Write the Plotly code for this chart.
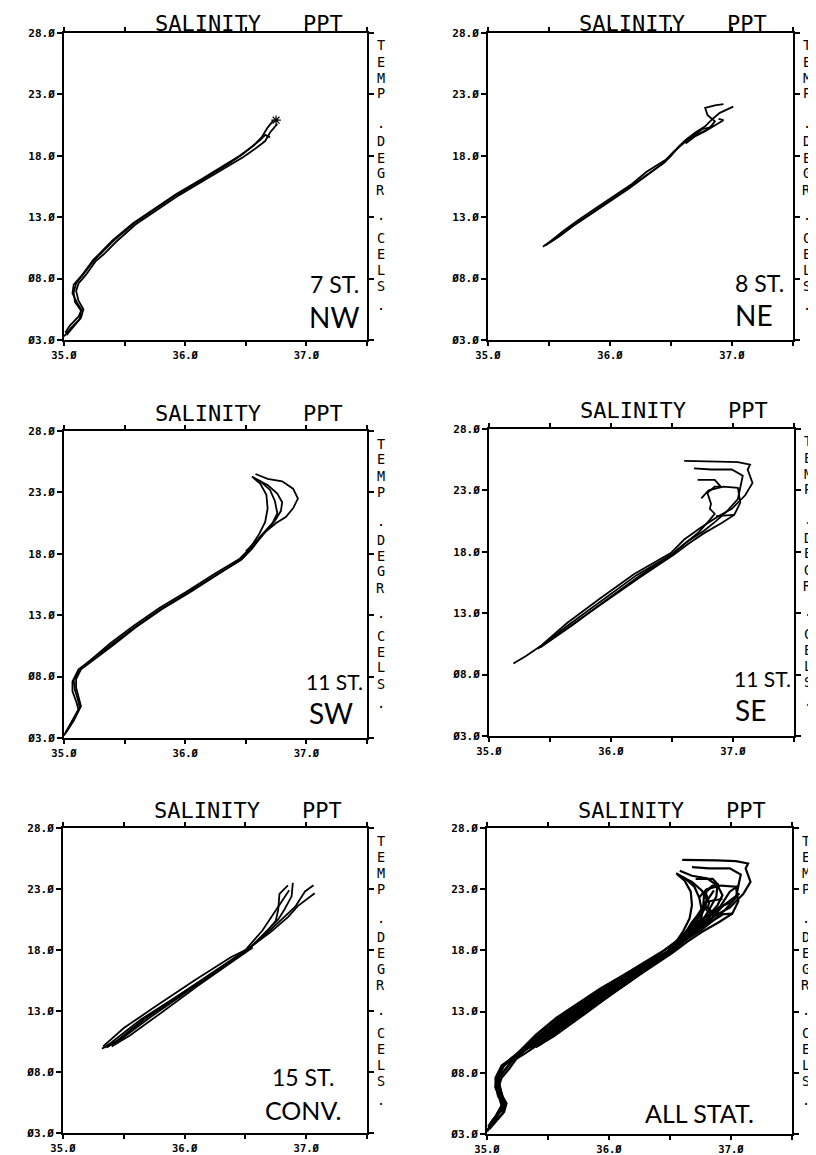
import plotly.graph_objects as go

# ---------------- data (salinity PPT, temperature deg C) ----------------
# NW, 7 stations
nw1_s = [35.01, 35.05, 35.12, 35.145, 35.11, 35.07, 35.08, 35.15, 35.24, 35.30, 35.40, 35.57, 35.74, 35.93, 36.12, 36.34, 36.45, 36.56, 36.63, 36.68, 36.73]
nw1_t = [3.6, 4.2, 4.9, 5.45, 6.0, 6.8, 7.5, 8.3, 9.5, 10.1, 11.1, 12.5, 13.6, 14.9, 16.0, 17.3, 18.0, 18.8, 19.5, 20.3, 20.9]
nw2_s = [35.02, 35.08, 35.14, 35.16, 35.12, 35.10, 35.12, 35.18, 35.26, 35.33, 35.43, 35.59, 35.76, 35.95, 36.14, 36.36, 36.48, 36.58, 36.66, 36.70, 36.76]
nw2_t = [3.4, 4.1, 4.8, 5.5, 6.2, 7.0, 7.6, 8.3, 9.4, 10.0, 11.0, 12.4, 13.5, 14.8, 15.9, 17.2, 17.9, 18.6, 19.2, 19.9, 20.6]
nw3_s = [35.00, 35.06, 35.13, 35.14, 35.09, 35.08, 35.10, 35.16, 35.25, 35.31, 35.41, 35.58, 35.75, 35.94, 36.13, 36.35, 36.47, 36.57, 36.62, 36.66, 36.70]
nw3_t = [3.3, 4.0, 4.7, 5.4, 6.1, 6.9, 7.6, 8.4, 9.5, 10.1, 11.1, 12.5, 13.6, 14.9, 16.0, 17.3, 18.1, 18.9, 19.3, 19.7, 19.5]
nw_star_s = [36.75]
nw_star_t = [20.9]

# NE, 8 stations
ne1_s = [35.45, 35.52, 35.62, 35.73, 35.88, 36.03, 36.18, 36.30, 36.46, 36.55, 36.62, 36.70, 36.78, 36.84, 36.90, 37.01]
ne1_t = [10.6, 11.1, 11.9, 12.7, 13.7, 14.7, 15.7, 16.7, 17.7, 18.6, 19.3, 19.9, 20.4, 21.0, 21.5, 22.0]
ne2_s = [35.50, 35.58, 35.70, 35.85, 36.00, 36.15, 36.30, 36.45, 36.52, 36.60, 36.68, 36.76, 36.82, 36.86, 36.80, 36.78, 36.86, 36.93]
ne2_t = [10.9, 11.4, 12.3, 13.3, 14.3, 15.3, 16.4, 17.5, 18.3, 19.0, 19.6, 20.2, 20.3, 20.8, 21.3, 21.9, 22.1, 22.2]
ne3_s = [35.47, 35.56, 35.68, 35.83, 35.98, 36.14, 36.28, 36.44, 36.50, 36.57, 36.64, 36.72, 36.79, 36.84]
ne3_t = [10.7, 11.3, 12.2, 13.2, 14.2, 15.3, 16.3, 17.4, 18.0, 18.8, 19.4, 19.8, 20.1, 20.5]
ne4_s = [36.62, 36.70, 36.78, 36.88, 36.93, 36.89]
ne4_t = [19.0, 19.6, 20.0, 20.6, 20.9, 21.0]

# SW, 11 stations
sw1_s = [35.01, 35.06, 35.13, 35.11, 35.09, 35.08, 35.13, 35.19, 35.30, 35.38, 35.57, 35.79, 36.01, 36.23, 36.45, 36.53, 36.61, 36.66, 36.68, 36.67, 36.62, 36.56]
sw1_t = [3.4, 4.3, 5.5, 6.3, 6.9, 7.7, 8.5, 9.1, 10.0, 10.7, 12.1, 13.6, 14.9, 16.3, 17.6, 18.4, 19.6, 20.6, 21.7, 22.8, 23.7, 24.2]
sw2_s = [35.00, 35.05, 35.12, 35.10, 35.07, 35.07, 35.12, 35.20, 35.31, 35.40, 35.58, 35.80, 36.02, 36.24, 36.46, 36.55, 36.64, 36.75, 36.83, 36.89, 36.93, 36.89, 36.80, 36.68, 36.58]
sw2_t = [3.2, 4.0, 5.3, 6.0, 6.8, 7.6, 8.6, 9.2, 10.0, 10.7, 12.0, 13.5, 14.8, 16.2, 17.5, 18.4, 19.6, 20.5, 21.0, 21.7, 22.5, 23.3, 23.9, 24.1, 24.5]
sw3_s = [35.02, 35.08, 35.14, 35.12, 35.10, 35.10, 35.14, 35.21, 35.32, 35.41, 35.59, 35.81, 36.03, 36.25, 36.47, 36.57, 36.66, 36.74, 36.79, 36.80, 36.76, 36.68, 36.60]
sw3_t = [3.5, 4.4, 5.6, 6.4, 7.1, 7.8, 8.6, 9.1, 9.9, 10.6, 12.0, 13.5, 14.8, 16.2, 17.6, 18.7, 19.8, 20.7, 21.5, 22.2, 22.9, 23.6, 24.0]
sw4_s = [36.50, 36.60, 36.72, 36.76, 36.74, 36.70, 36.62, 36.55]
sw4_t = [18.2, 19.2, 20.5, 21.3, 22.3, 23.2, 23.9, 24.3]

# SE, 11 stations
se1_s = [35.20, 35.30, 35.42, 35.64, 35.91, 36.19, 36.49, 36.60, 36.74, 36.88, 36.99, 37.10, 37.16, 37.14, 37.12, 37.14, 37.04, 36.88, 36.72, 36.60]
se1_t = [8.9, 9.5, 10.3, 12.2, 14.2, 16.2, 17.9, 19.0, 20.0, 20.9, 21.5, 22.6, 23.6, 24.2, 24.7, 25.1, 25.3, 25.35, 25.4, 25.4]
se2_s = [35.40, 35.50, 35.66, 35.93, 36.21, 36.50, 36.62, 36.76, 36.86, 36.95, 37.04, 37.08, 36.99, 36.82, 36.68]
se2_t = [10.1, 10.9, 12.1, 14.1, 16.1, 17.8, 18.8, 19.7, 20.5, 21.3, 22.3, 24.2, 24.7, 24.7, 24.8]
se3_s = [35.42, 35.68, 35.95, 36.23, 36.50, 36.63, 36.72, 36.81, 36.85, 36.81, 36.82, 36.79, 36.85, 36.90, 36.85, 36.71]
se3_t = [10.2, 12.0, 14.0, 16.0, 17.8, 18.9, 19.6, 20.6, 21.1, 21.5, 21.9, 22.8, 23.3, 23.3, 23.85, 23.85]
se4_s = [35.44, 35.70, 35.97, 36.25, 36.52, 36.64, 36.76, 36.90, 37.01, 37.06, 37.04, 36.92, 36.80, 36.74]
se4_t = [10.4, 12.2, 14.1, 16.0, 17.8, 18.7, 19.5, 20.3, 21.0, 22.0, 23.2, 23.3, 23.0, 22.35]
se5_s = [36.86, 36.94, 37.01]
se5_t = [20.9, 20.95, 21.0]

# CONV., 15 stations
cv1_s = [35.32, 35.39, 35.64, 36.02, 36.36, 36.52, 36.63, 36.77, 36.82, 36.88, 36.89]
cv1_t = [9.9, 10.35, 12.3, 14.7, 16.9, 18.0, 19.1, 20.5, 21.3, 22.4, 23.5]
cv2_s = [35.36, 35.45, 35.70, 36.06, 36.38, 36.55, 36.68, 36.80, 36.91, 36.99, 37.06]
cv2_t = [10.0, 10.6, 12.6, 15.0, 17.1, 18.3, 19.4, 20.5, 21.55, 22.8, 23.3]
cv3_s = [35.38, 35.48, 35.72, 36.05, 36.36, 36.53, 36.66, 36.75, 36.77, 36.78, 36.85]
cv3_t = [10.2, 10.7, 12.5, 14.8, 16.9, 18.1, 19.3, 20.4, 21.3, 22.6, 23.3]
cv4_s = [35.34, 35.44, 35.68, 36.04, 36.37, 36.54, 36.70, 36.85, 36.93, 37.07]
cv4_t = [10.0, 10.5, 12.4, 14.85, 17.0, 18.2, 19.4, 20.7, 21.6, 22.65]
cv5_s = [35.40, 35.55, 35.80, 36.10, 36.40, 36.56]
cv5_t = [10.1, 11.0, 12.8, 15.0, 17.1, 18.2]
cv6_s = [35.33, 35.50, 35.75, 36.08, 36.38, 36.50, 36.64, 36.72, 36.80, 36.86]
cv6_t = [10.1, 11.6, 13.3, 15.5, 17.4, 18.0, 19.6, 20.8, 21.9, 22.9]

x_tickvals = [35.0, 35.5, 36.0, 36.5, 37.0, 37.5]
x_ticktext = ["35.Ø", "", "36.Ø", "", "37.Ø", ""]
y_tickvals = [3, 8, 13, 18, 23, 28]
y_ticktext = ["Ø3.Ø", "Ø8.Ø", "13.Ø", "18.Ø", "23.Ø", "28.Ø"]

nw_curves = [(nw1_s, nw1_t), (nw2_s, nw2_t), (nw3_s, nw3_t)]
ne_curves = [(ne1_s, ne1_t), (ne2_s, ne2_t), (ne3_s, ne3_t), (ne4_s, ne4_t)]
sw_curves = [(sw1_s, sw1_t), (sw2_s, sw2_t), (sw3_s, sw3_t), (sw4_s, sw4_t)]
se_curves = [(se1_s, se1_t), (se2_s, se2_t), (se3_s, se3_t), (se4_s, se4_t), (se5_s, se5_t)]
cv_curves = [(cv1_s, cv1_t), (cv2_s, cv2_t), (cv3_s, cv3_t), (cv4_s, cv4_t), (cv5_s, cv5_t), (cv6_s, cv6_t)]
all_curves = nw_curves + ne_curves + sw_curves + se_curves + cv_curves

# ---------------- layout ----------------
W, H = 816, 1155
OFF = 8  # the page body adds an 8 px margin; boxes below are page pixels
MONO = "DejaVu Sans Mono"
LAB = "Lato, Liberation Sans"

panels = [
    dict(box=(64, 33, 367, 340), curves=nw_curves, star=True, lw=1.8,
         labels=[("7 ST.", 244, 56, 23), ("NW", 243, 23, 28)]),
    dict(box=(488, 33, 793, 340), curves=ne_curves, star=False, lw=1.8,
         labels=[("8 ST.", 245, 57, 23), ("NE", 245, 25, 28)]),
    dict(box=(64, 431, 367, 738), curves=sw_curves, star=False, lw=1.8,
         labels=[("11 ST.", 240, 57, 21), ("SW", 243, 25, 28)]),
    dict(box=(489, 429, 794, 736), curves=se_curves, star=False, lw=1.8,
         labels=[("11 ST.", 243, 57.5, 21), ("SE", 244, 26, 28)]),
    dict(box=(63, 828, 367, 1133), curves=cv_curves, star=False, lw=1.8,
         labels=[("15 ST.", 207, 56.5, 23), ("CONV.", 200, 23, 25)]),
    dict(box=(487, 828, 792, 1134), curves=all_curves, star=False, lw=2.2,
         labels=[("ALL STAT.", 156, 21.5, 25)]),
]

# vertical right-hand title: characters with their offset (px) below the panel top
vert_chars = [("T", 12.5), ("E", 28.5), ("M", 44.5), ("P", 60.5),
              (".", 90.0), ("D", 108.5), ("E", 124.5), ("G", 140.5), ("R", 156.5),
              (".", 182.0), ("C", 204.5), ("E", 220.5), ("L", 236.5), ("S", 252.5),
              (".", 272.0)]


def px_x(p):
    return (p - OFF) / W


def px_y(p):
    return 1 - (p - OFF) / H


fig = go.Figure()
annotations = []
layout_axes = {}

for i, p in enumerate(panels, start=1):
    x0, y0, x1, y1 = p["box"]
    xa = "x" if i == 1 else f"x{i}"
    ya = "y" if i == 1 else f"y{i}"
    xkey = "xaxis" if i == 1 else f"xaxis{i}"
    ykey = "yaxis" if i == 1 else f"yaxis{i}"
    common = dict(showgrid=False, zeroline=False, showline=True, linewidth=2,
                  linecolor="black", mirror="allticks", ticks="outside",
                  tickwidth=1.5, tickcolor="black", fixedrange=True,
                  automargin=False)
    layout_axes[xkey] = dict(domain=[px_x(x0), px_x(x1)], range=[35.0, 37.5], anchor=ya,
                             tickmode="array", tickvals=x_tickvals, ticktext=x_ticktext,
                             ticklen=4, ticklabelstandoff=0,
                             tickfont=dict(family=MONO, size=10.5, color="black", weight="bold"),
                             **common)
    layout_axes[ykey] = dict(domain=[px_y(y1), px_y(y0)], range=[3, 28], anchor=xa,
                             tickmode="array", tickvals=y_tickvals, ticktext=y_ticktext,
                             ticklen=5,
                             tickfont=dict(family=MONO, size=11, color="black", weight="bold"),
                             **common)
    for s, t in p["curves"]:
        fig.add_trace(go.Scatter(x=s, y=t, mode="lines", xaxis=xa, yaxis=ya,
                                 line=dict(color="black", width=p["lw"]),
                                 showlegend=False, hoverinfo="skip"))
    if p["star"]:
        fig.add_trace(go.Scatter(x=nw_star_s, y=nw_star_t, mode="markers", xaxis=xa, yaxis=ya,
                                 marker=dict(symbol="asterisk-open", size=8, color="black",
                                             line=dict(color="black", width=1.2)),
                                 showlegend=False, hoverinfo="skip"))
    # top title (top row sits against the top of the page, so anchor it there)
    if y0 - 18 - 13 < OFF:
        ty, tanchor = px_y(OFF + 1), "top"
    else:
        ty, tanchor = px_y(y0 - 18), "middle"
    annotations.append(dict(text="SALINITY", xref="paper", yref="paper",
                            x=px_x(x0 + 144), y=ty,
                            xanchor="center", yanchor=tanchor, showarrow=False,
                            font=dict(family=MONO, size=22, color="black")))
    annotations.append(dict(text="PPT", xref="paper", yref="paper",
                            x=px_x(x0 + 259), y=ty,
                            xanchor="center", yanchor=tanchor, showarrow=False,
                            font=dict(family=MONO, size=22, color="black")))
    # right vertical title (stacked upright characters)
    for ch, off in vert_chars:
        annotations.append(dict(text=ch, xref="paper", yref="paper",
                                x=px_x(x1 + 13.5), y=px_y(y0 + off),
                                xanchor="center", yanchor="middle", showarrow=False,
                                font=dict(family=MONO, size=13.5, color="black")))
    # station / region labels
    for txt, dx, dy, sz in p["labels"]:
        annotations.append(dict(text=txt, xref="paper", yref="paper",
                                x=px_x(x0 + dx), y=px_y(y1 - dy),
                                xanchor="left", yanchor="middle", showarrow=False,
                                font=dict(family=LAB, size=sz, color="black")))

fig.update_layout(template="none", width=W, height=H,
                  margin=dict(l=0, r=0, t=0, b=0, pad=0),
                  paper_bgcolor="white", plot_bgcolor="white",
                  annotations=annotations, showlegend=False, **layout_axes)

fig.write_html("out.html")
